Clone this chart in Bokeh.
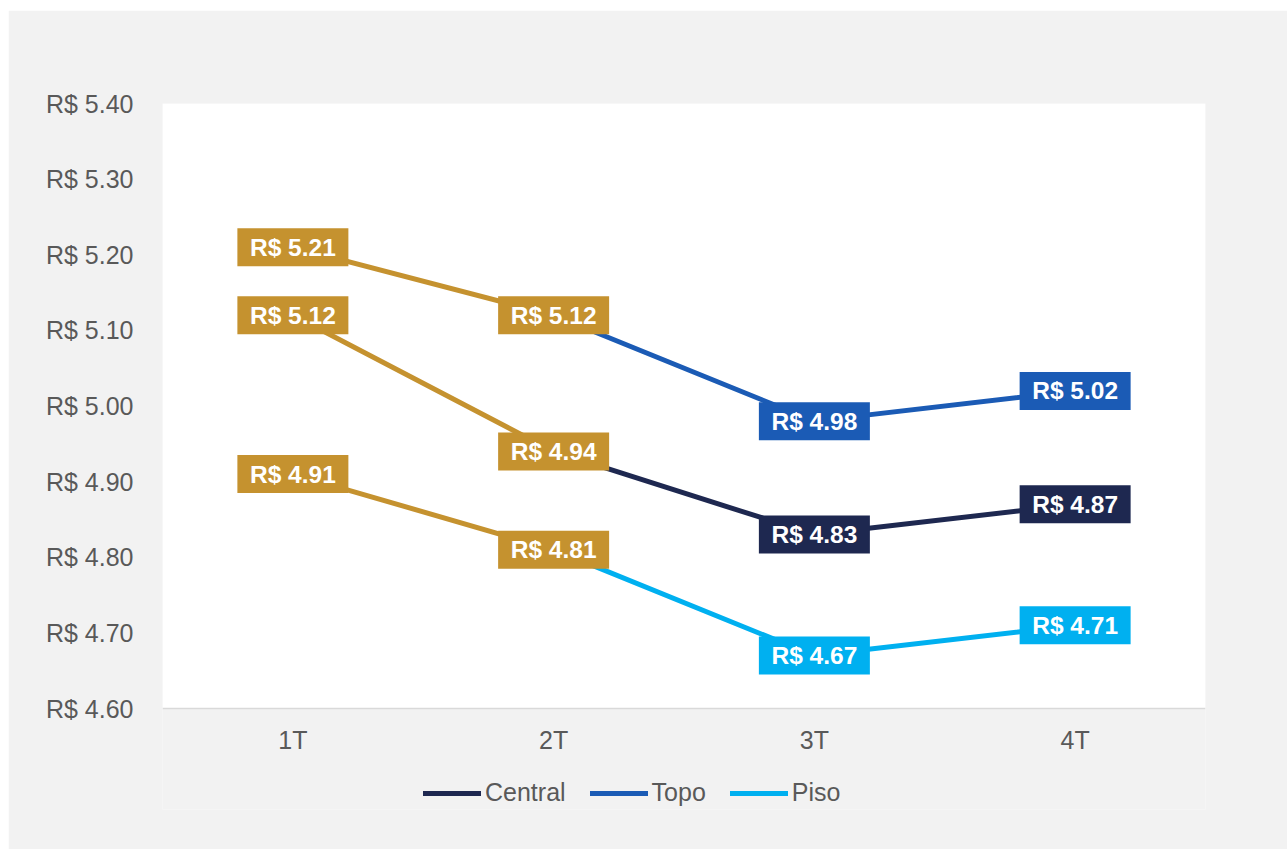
from bokeh.plotting import figure
from bokeh.models import (ColumnDataSource, FixedTicker, Legend, LegendItem,
                          BoxAnnotation, Span)
from bokeh.core.properties import value
from bokeh.embed import file_html
from bokeh.resources import INLINE

# ---- data ----
quarters = ["1T", "2T", "3T", "4T"]
central = [5.12, 4.94, 4.83, 4.87]
topo = [5.21, 5.12, 4.98, 5.02]
piso = [4.91, 4.81, 4.67, 4.71]
series_names = ["Central", "Topo", "Piso"]
series_values = [central, topo, piso]
y_ticks = [4.6, 4.7, 4.8, 4.9, 5.0, 5.1, 5.2, 5.3, 5.4]
y_tick_labels = ["R$ 4.60", "R$ 4.70", "R$ 4.80", "R$ 4.90", "R$ 5.00",
                 "R$ 5.10", "R$ 5.20", "R$ 5.30", "R$ 5.40"]

# ---- styles / layout ----
GOLD = "#C5922F"
series_colors = ["#1E2850", "#1B5BB5", "#00B0F0"]
FONT = "Liberation Sans"
GREY_TEXT = "#595959"
GREY_BG = "#F2F2F2"

W, H = 1279, 839
B_LEFT, B_RIGHT, B_TOP, B_BOTTOM = 154, 82, 93, 40
PLOT_PX = 605            # pixel height of the white plot area (4.60 .. 5.40)
y_min, y_max = y_ticks[0], y_ticks[-1]
px_per_unit = PLOT_PX / (y_max - y_min)
frame_h = H - B_TOP - B_BOTTOM
y_start = y_max - frame_h / px_per_unit   # extend frame below to hold legend

p = figure(width=W, height=H, x_range=quarters, y_range=(y_start, y_max),
           output_backend="svg", toolbar_location=None, tools="",
           min_border_left=B_LEFT, min_border_right=B_RIGHT,
           min_border_top=B_TOP, min_border_bottom=B_BOTTOM)
p.margin = (10, 0, 0, 8)
p.border_fill_color = GREY_BG
p.background_fill_color = GREY_BG
p.outline_line_color = None
p.xgrid.visible = False
p.ygrid.visible = False

# white plot area and its base line
p.add_layout(BoxAnnotation(bottom=y_min, fill_color="white", fill_alpha=1,
                           line_color=None, level="underlay"))
p.add_layout(Span(location=y_min, dimension="width", line_color="#D9D9D9",
                  line_width=1.5, level="underlay"))

# axes
p.yaxis.ticker = FixedTicker(ticks=y_ticks)
p.yaxis.major_label_overrides = {t: l for t, l in zip(y_ticks, y_tick_labels)}
p.yaxis.axis_line_color = None
p.yaxis.major_tick_line_color = None
p.yaxis.minor_tick_line_color = None
p.yaxis.major_tick_out = 0
p.yaxis.major_label_standoff = 29
p.yaxis.major_label_text_font = FONT
p.yaxis.major_label_text_font_size = "25px"
p.yaxis.major_label_text_color = GREY_TEXT

p.xaxis.fixed_location = y_min - 17 / px_per_unit
p.xaxis.axis_line_color = None
p.xaxis.major_tick_line_color = None
p.xaxis.minor_tick_line_color = None
p.xaxis.major_tick_out = 0
p.xaxis.major_tick_in = 0
p.xaxis.major_label_standoff = 0
p.xaxis.major_label_text_font = FONT
p.xaxis.major_label_text_font_size = "25px"
p.xaxis.major_label_text_color = GREY_TEXT

# lines
legend_renderers = []
for vals, col in zip(series_values, series_colors):
    p.line(x=quarters[:2], y=vals[:2], line_color=GOLD, line_width=5,
           line_cap="round")
    r = p.line(x=quarters[1:], y=vals[1:], line_color=col, line_width=5,
               line_cap="round")
    legend_renderers.append(r)

# label boxes
lx, ly, lt, lc = [], [], [], []
for vals, col in zip(series_values, series_colors):
    for i, (q, v) in enumerate(zip(quarters, vals)):
        lx.append(q)
        ly.append(v)
        lt.append(f"R$ {v:.2f}")
        lc.append(GOLD if i < 2 else col)
src = ColumnDataSource(dict(x=lx, y=ly, t=lt, c=lc))
p.rect(x="x", y="y", width=111, height=38, width_units="screen",
       height_units="screen", fill_color="c", line_color=None, source=src)
p.text(x="x", y="y", text="t", source=src, text_color="white",
       text_font=value(FONT), text_font_style="bold",
       text_font_size=value("24.5px"), text_align="center",
       text_baseline="middle")

# legend
items = [LegendItem(label=n, renderers=[r])
         for n, r in zip(series_names, legend_renderers)]
legend = Legend(items=items, orientation="horizontal", location=(261, 2),
                glyph_width=58, glyph_height=24, label_standoff=4, spacing=24,
                padding=0, margin=0, border_line_color=None,
                background_fill_alpha=0, label_text_font=FONT,
                label_text_font_size="25px", label_text_color=GREY_TEXT)
p.add_layout(legend, "center")

open("out.html", "w").write(file_html(p, INLINE))
